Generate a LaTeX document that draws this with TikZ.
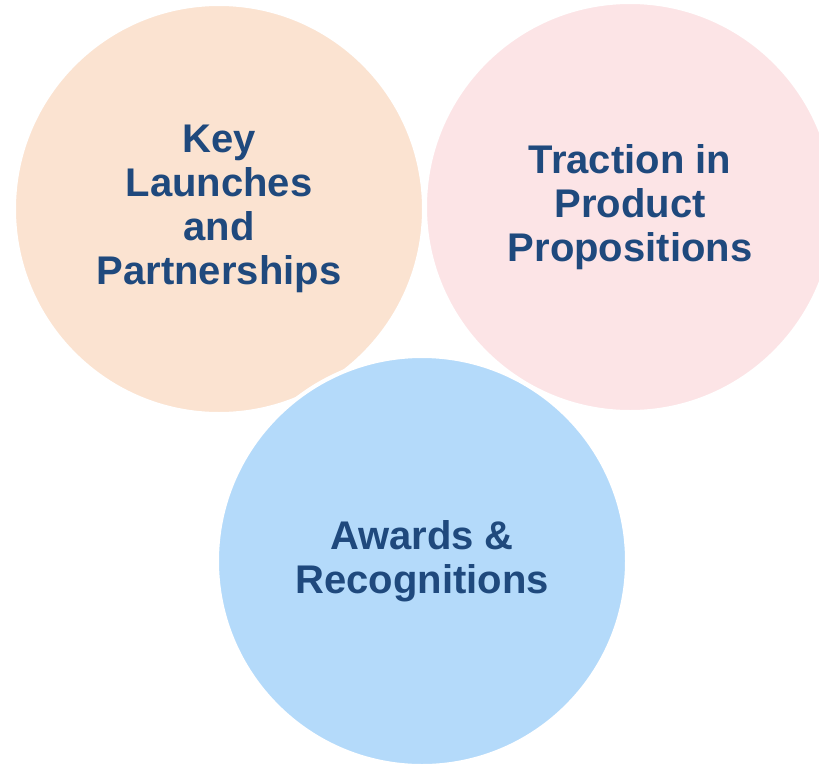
\documentclass[tikz,border=0pt]{standalone}
\usepackage{fontspec}
\setmainfont{Liberation Sans}
\usepackage{tikz}

\definecolor{peach}{RGB}{251,227,209}
\definecolor{blush}{RGB}{252,228,230}
\definecolor{sky}{RGB}{180,218,250}
\definecolor{ink}{RGB}{31,73,125}

\begin{document}
\begin{tikzpicture}[x=1pt,y=-1pt]
 \useasboundingbox (0,0) rectangle (819,763);
          \begin{scope}[every node/.style={circle, draw=white, line width=4pt, minimum size=410pt, inner sep=0pt,
                        align=center, text=ink, font=\bfseries\fontsize{40}{44}\selectfont}]
          \node[fill=peach] (launch) at (219,209) {Key\\Launches\\and\\Partnerships};
          \node[fill=sky] (awards) at (422,561) {Awards \&\\Recognitions};
          \node[fill=blush] (traction) at (630,207) {Traction in\\Product\\Propositions};
          \end{scope}
          \end{tikzpicture}
\end{document}
